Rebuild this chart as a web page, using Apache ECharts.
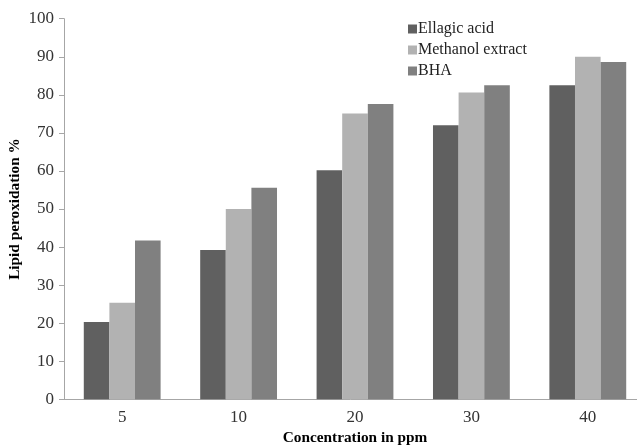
<!DOCTYPE html>
<html><head><meta charset="utf-8">
<script src="https://cdn.jsdelivr.net/npm/echarts@6/dist/echarts.min.js"></script>
<style>html,body{margin:0;padding:0;background:#fff}#c{width:637px;height:445px}</style>
</head><body><div id="c"></div>
<script>
const categories = ['5', '10', '20', '30', '40'];
const ellagic = [20.3, 39.2, 60.2, 72.0, 82.5];
const methanol = [25.4, 50.0, 75.1, 80.6, 90.0];
const bha = [41.7, 55.6, 77.6, 82.5, 88.6];
const seriesNames = ['Ellagic acid', 'Methanol extract', 'BHA'];
const colors = ['#606060', '#b2b2b2', '#808080'];
const font = 'Liberation Serif';
const chart = echarts.init(document.getElementById('c'));
chart.setOption({
  animation: false,
  color: colors,
  grid: {left: 64, right: -9, top: 18.7, bottom: 45.7, containLabel: false, outerBoundsMode: 'none'},
  legend: {
    orient: 'vertical', left: 403, top: 16, itemWidth: 9, itemHeight: 9, itemGap: 5,
    icon: 'rect',
    textStyle: {fontFamily: font, fontSize: 16, color: '#222', padding: [0,0,0,-4]},
    data: seriesNames
  },
  xAxis: {
    type: 'category', data: categories,
    name: 'Concentration in ppm', nameLocation: 'middle', nameGap: 31, nameMoveOverlap: false,
    nameTextStyle: {fontFamily: font, fontSize: 15.3, fontWeight: 'bold', color: '#000'},
    axisLine: {lineStyle: {color: '#a6a6a6'}},
    axisTick: {length: 5, lineStyle: {color: '#a6a6a6'}},
    axisLabel: {fontFamily: font, fontSize: 17, color: '#333', margin: 10}
  },
  yAxis: {
    type: 'value', min: 0, max: 100, interval: 10,
    name: 'Lipid peroxidation %', nameLocation: 'middle', nameGap: 41, nameMoveOverlap: false,
    nameTextStyle: {fontFamily: font, fontSize: 15.3, fontWeight: 'bold', color: '#000'},
    axisLine: {show: true, lineStyle: {color: '#a6a6a6'}},
    axisTick: {show: true, length: 5, lineStyle: {color: '#a6a6a6'}},
    splitLine: {show: false},
    axisLabel: {fontFamily: font, fontSize: 17, color: '#333', margin: 10}
  },
  series: [
    {name: seriesNames[0], type: 'bar', data: ellagic, barGap: '0%', barCategoryGap: '34%'},
    {name: seriesNames[1], type: 'bar', data: methanol, barGap: '0%', barCategoryGap: '34%'},
    {name: seriesNames[2], type: 'bar', data: bha, barGap: '0%', barCategoryGap: '34%'}
  ]
});
</script></body></html>
